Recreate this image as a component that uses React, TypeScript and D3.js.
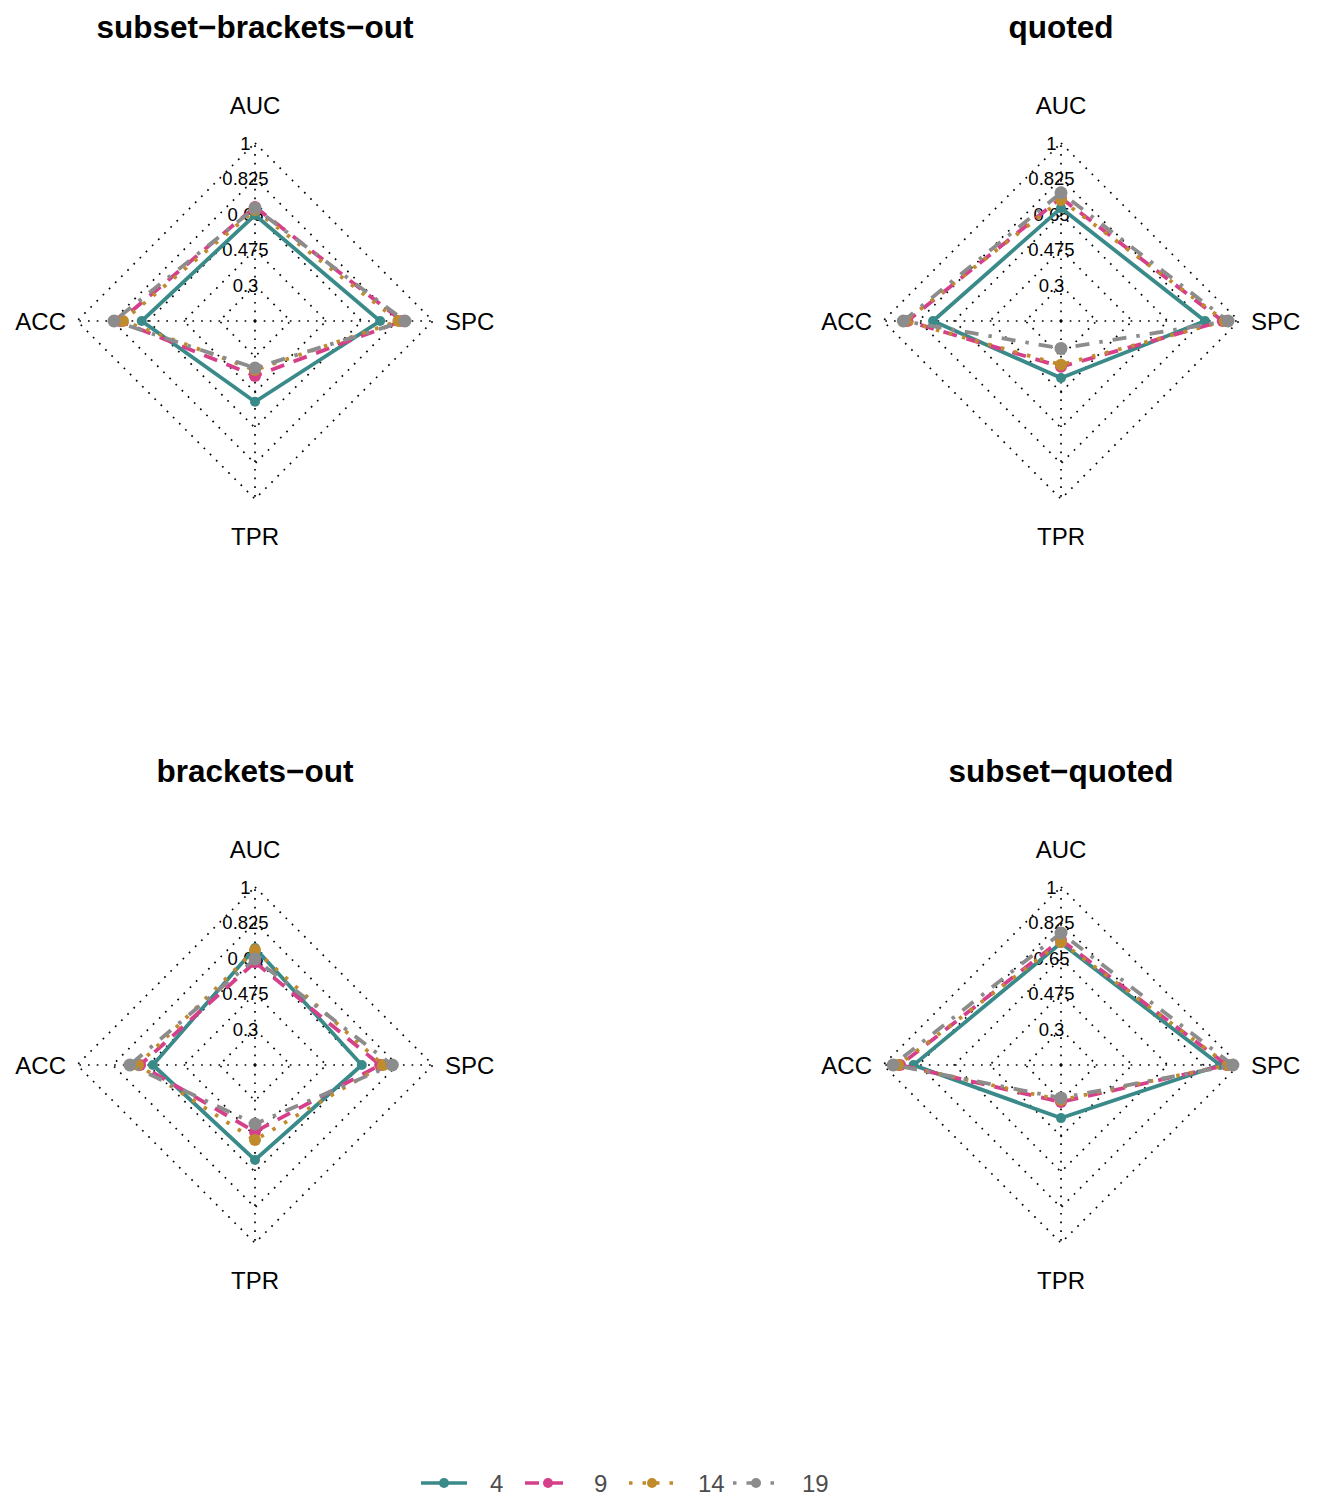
import { useEffect } from "react";
import * as d3 from "d3";

// radar axes, clockwise from the top
const axes = ["AUC", "SPC", "TPR", "ACC"];
const seriesNames = ["4", "9", "14", "19"];
const panelTitles = ["subset−brackets−out", "quoted", "brackets−out", "subset−quoted"];
const gridValues = [0.3, 0.475, 0.65, 0.825, 1];
const gridLabels = ["0.3", "0.475", "0.65", "0.825", "1"];

// values per series: [AUC, SPC, TPR, ACC]
const subsetBracketsOut = [
  [0.646, 0.74, 0.522, 0.682],
  [0.686, 0.848, 0.395, 0.789],
  [0.67, 0.83, 0.366, 0.774],
  [0.68, 0.862, 0.356, 0.818],
];
const quoted = [
  [0.68, 0.833, 0.405, 0.754],
  [0.73, 0.92, 0.35, 0.88],
  [0.72, 0.93, 0.34, 0.89],
  [0.755, 0.946, 0.26, 0.9],
];
const bracketsOut = [
  [0.7, 0.65, 0.592, 0.627],
  [0.63, 0.74, 0.453, 0.69],
  [0.69, 0.755, 0.494, 0.7],
  [0.646, 0.8, 0.415, 0.74],
];
const subsetQuoted = [
  [0.725, 0.907, 0.386, 0.85],
  [0.74, 0.94, 0.307, 0.916],
  [0.73, 0.945, 0.297, 0.926],
  [0.774, 0.97, 0.287, 0.95],
];
const panelData = [subsetBracketsOut, quoted, bracketsOut, subsetQuoted];

const colors = ["#3b8a8a", "#d6408a", "#c08b2c", "#8c8c8c"];
const dashes = ["none", "14 10", "3.5 10", "3.5 10 14 10"];
const pointR = [5, 6, 6, 6.5];

const W = 1322;
const H = 1497;
const font = "'Liberation Sans', Arial, sans-serif";
const centers = [
  [255, 321],
  [1061, 321],
  [255, 1065],
  [1061, 1065],
];
const R = 178;

export default function App() {
  useEffect(() => {
    document.body.style.margin = "0";
  }, []);

  const r = d3.scaleLinear().domain([0.125, 1]).range([0, R]);
  const angle = d3
    .scaleOrdinal<string, number>()
    .domain(axes)
    .range(axes.map((_, i) => (i * Math.PI) / 2));

  const line = d3
    .lineRadial<number>()
    .angle((_, i) => angle(axes[i]))
    .radius((d) => r(d))
    .curve(d3.curveLinearClosed);

  const px = (a: number, rad: number) => [rad * Math.sin(a), -rad * Math.cos(a)];

  const legendX = d3.scalePoint().domain(seriesNames).range([444, 756]);

  return (
    <svg width={W} height={H} style={{ display: "block", background: "#fff" }} fontFamily={font}>
      {panelData.map((rows, p) => {
        const [cx, cy] = centers[p];
        return (
          <g key={p} transform={`translate(${cx},${cy})`}>
            <text x={0} y={-294} textAnchor="middle" dominantBaseline="central" fontSize={31.5} fontWeight="bold">
              {panelTitles[p]}
            </text>
            {/* grid */}
            {gridValues.map((g) => (
              <path
                key={g}
                d={line(axes.map(() => g)) || ""}
                fill="none"
                stroke="#000"
                strokeWidth={1.7}
                strokeDasharray="1.7 7"
              />
            ))}
            {axes.map((a) => {
              const [x, y] = px(angle(a), R);
              return (
                <line key={a} x1={0} y1={0} x2={x} y2={y} stroke="#000" strokeWidth={1.7} strokeDasharray="1.7 7" />
              );
            })}
            {gridValues.map((g, i) => (
              <text key={g} x={-9.5} y={-r(g)} textAnchor="middle" dominantBaseline="central" fontSize={18.5}>
                {gridLabels[i]}
              </text>
            ))}
            {/* axis labels */}
            <text x={0} y={-216} textAnchor="middle" dominantBaseline="central" fontSize={24}>
              {axes[0]}
            </text>
            <text x={190} y={0} textAnchor="start" dominantBaseline="central" fontSize={24}>
              {axes[1]}
            </text>
            <text x={0} y={215} textAnchor="middle" dominantBaseline="central" fontSize={24}>
              {axes[2]}
            </text>
            <text x={-189} y={0} textAnchor="end" dominantBaseline="central" fontSize={24}>
              {axes[3]}
            </text>
            {/* series */}
            {rows.map((vals, s) => (
              <g key={s}>
                <path
                  d={line(vals) || ""}
                  fill="none"
                  stroke={colors[s]}
                  strokeWidth={3.8}
                  strokeDasharray={dashes[s]}
                />
                {vals.map((v, i) => {
                  const [x, y] = px(angle(axes[i]), r(v));
                  return <circle key={i} cx={x} cy={y} r={pointR[s]} fill={colors[s]} />;
                })}
              </g>
            ))}
          </g>
        );
      })}
      {/* legend */}
      {seriesNames.map((n, s) => {
        const x = legendX(n) as number;
        return (
          <g key={n} transform={`translate(${x},1483)`}>
            <line x1={-23} x2={23} y1={0} y2={0} stroke={colors[s]} strokeWidth={3.4} strokeDasharray={dashes[s]} />
            <circle cx={0} cy={0} r={5} fill={colors[s]} />
            <text x={46} y={0} dominantBaseline="central" fontSize={24} fill="#4d4d4d">
              {n}
            </text>
          </g>
        );
      })}
    </svg>
  );
}
